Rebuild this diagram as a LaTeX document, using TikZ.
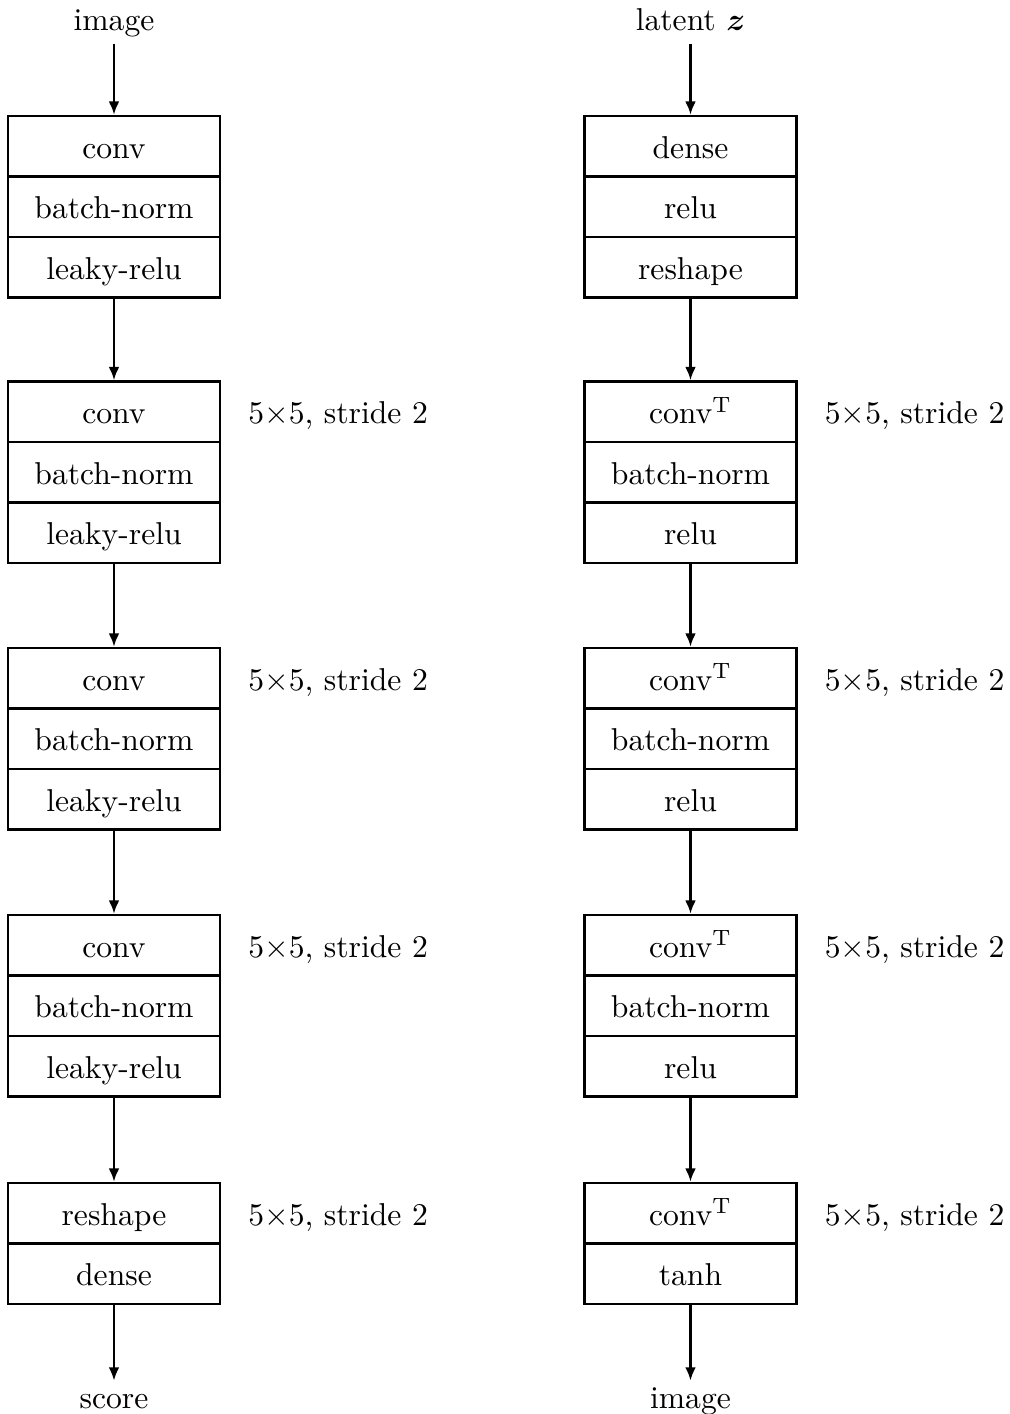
\documentclass[tikz,border=0pt]{standalone}
\usepackage{bm}
\usetikzlibrary{arrows.meta}
\begin{document}
\begin{tikzpicture}[x=0.3162pt,y=-0.3162pt,
  layer/.style={draw, line width=0.8pt, minimum width=67pt, minimum height=19.13pt,
    inner sep=0pt, text height=7.5pt, text depth=0pt},
  io/.style={inner sep=2pt, text height=1.5ex, text depth=0.5ex},
  hyper/.style={anchor=west, inner xsep=0pt, text height=7.5pt, text depth=0pt},
  flow/.style={-{Latex[length=4.2pt,width=3.4pt]}, line width=0.75pt}]
\useasboundingbox (0,0) rectangle (1009,1414);

% ---------------- discriminator ----------------
\node[io, anchor=base] (din) at (114,30) {image};

\node[layer] (L1a) at (114,146.25) {conv};
\node[layer] (L1b) at (114,206.75) {batch-norm};
\node[layer] (L1c) at (114,267.25) {leaky-relu};

\node[layer] (L2a) at (114,411.75) {conv};
\node[layer] (L2b) at (114,472.25) {batch-norm};
\node[layer] (L2c) at (114,532.75) {leaky-relu};

\node[layer] (L3a) at (114,678.25) {conv};
\node[layer] (L3b) at (114,738.75) {batch-norm};
\node[layer] (L3c) at (114,799.25) {leaky-relu};

\node[layer] (L4a) at (114,945.25) {conv};
\node[layer] (L4b) at (114,1005.75) {batch-norm};
\node[layer] (L4c) at (114,1066.25) {leaky-relu};

\node[layer] (L5a) at (114,1213.25) {reshape};
\node[layer] (L5b) at (114,1273.75) {dense};

\node[io, anchor=base] (dout) at (114,1408) {score};

\node[hyper] (Lh2) at ([xshift=8.4pt]L2a.east) {$5{\times}5$, stride 2};
\node[hyper] (Lh3) at ([xshift=8.4pt]L3a.east) {$5{\times}5$, stride 2};
\node[hyper] (Lh4) at ([xshift=8.4pt]L4a.east) {$5{\times}5$, stride 2};
\node[hyper] (Lh5) at ([xshift=8.4pt]L5a.east) {$5{\times}5$, stride 2};

\draw[flow] (din) -- (L1a);
\draw[flow] (L1c) -- (L2a);
\draw[flow] (L2c) -- (L3a);
\draw[flow] (L3c) -- (L4a);
\draw[flow] (L4c) -- (L5a);
\draw[flow] (L5b) -- (dout);

% ---------------- generator ----------------
\node[io, anchor=base] (gin) at (690.5,30) {latent $\bm{z}$};

\node[layer] (R1a) at (690.5,146.25) {dense};
\node[layer] (R1b) at (690.5,206.75) {relu};
\node[layer] (R1c) at (690.5,267.25) {reshape};

\node[layer] (R2a) at (690.5,411.75) {conv$^{\mathrm{T}}$};
\node[layer] (R2b) at (690.5,472.25) {batch-norm};
\node[layer] (R2c) at (690.5,532.75) {relu};

\node[layer] (R3a) at (690.5,678.25) {conv$^{\mathrm{T}}$};
\node[layer] (R3b) at (690.5,738.75) {batch-norm};
\node[layer] (R3c) at (690.5,799.25) {relu};

\node[layer] (R4a) at (690.5,945.25) {conv$^{\mathrm{T}}$};
\node[layer] (R4b) at (690.5,1005.75) {batch-norm};
\node[layer] (R4c) at (690.5,1066.25) {relu};

\node[layer] (R5a) at (690.5,1213.25) {conv$^{\mathrm{T}}$};
\node[layer] (R5b) at (690.5,1273.75) {tanh};

\node[io, anchor=base] (gout) at (690.5,1408) {image};

\node[hyper] (Rh2) at ([xshift=8.4pt]R2a.east) {$5{\times}5$, stride 2};
\node[hyper] (Rh3) at ([xshift=8.4pt]R3a.east) {$5{\times}5$, stride 2};
\node[hyper] (Rh4) at ([xshift=8.4pt]R4a.east) {$5{\times}5$, stride 2};
\node[hyper] (Rh5) at ([xshift=8.4pt]R5a.east) {$5{\times}5$, stride 2};

\draw[flow] (gin) -- (R1a);
\draw[flow] (R1c) -- (R2a);
\draw[flow] (R2c) -- (R3a);
\draw[flow] (R3c) -- (R4a);
\draw[flow] (R4c) -- (R5a);
\draw[flow] (R5b) -- (gout);
\end{tikzpicture}
\end{document}
